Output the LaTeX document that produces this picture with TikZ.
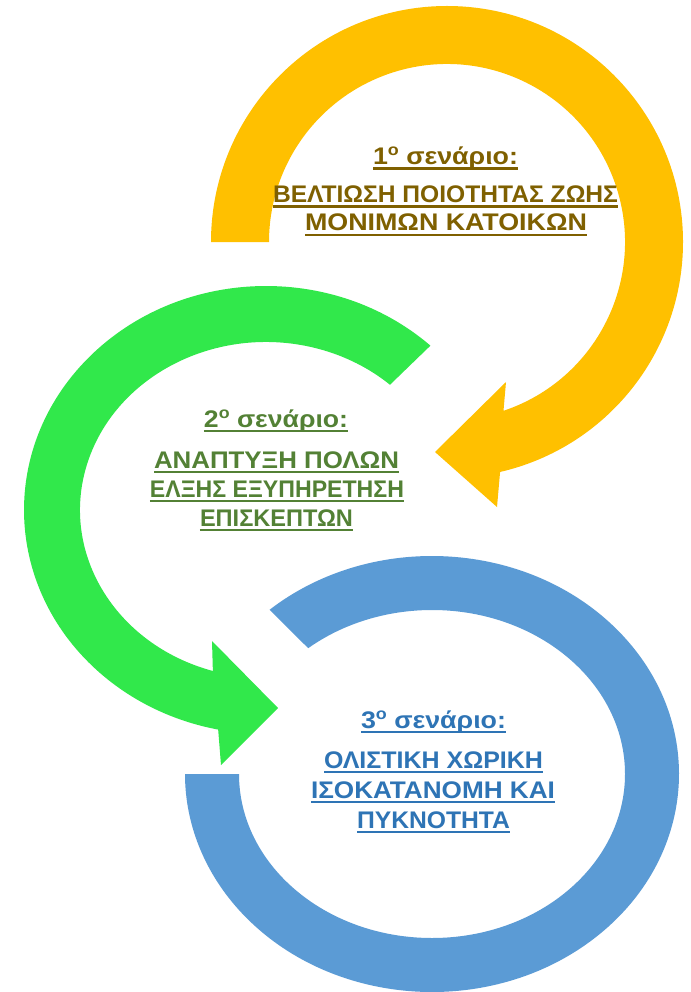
\documentclass[tikz,border=0pt]{standalone}
\usepackage{fontspec}
\setmainfont{Liberation Sans}
\usetikzlibrary{calc}
\definecolor{yarrow}{HTML}{FFC000}
\definecolor{garrow}{HTML}{31E84B}
\definecolor{barrow}{HTML}{5B9BD5}
\definecolor{ytext}{HTML}{7F6000}
\definecolor{gtext}{HTML}{538135}
\definecolor{btext}{HTML}{2E74B5}
\newsavebox\ulsave
\newcommand\ulbox[2]{\sbox\ulsave{\resizebox{#1pt}{\height}{#2}}\rlap{\rule[-5.2pt]{\wd\ulsave}{2.7pt}}\usebox\ulsave}
\newcommand\supo{\raisebox{9pt}{\fontsize{16}{16}\selectfont ο}}
\begin{document}
\begin{tikzpicture}[x=1pt,y=-1pt,
  lbl/.style={anchor=base, inner sep=0pt, font=\bfseries\fontsize{24}{24}\selectfont}]
\useasboundingbox (0,0) rectangle (690,992);
\fill[white] (0,0) rectangle (690,992);
% yellow arrow
\coordinate (yc) at (447,242);
\coordinate (yb1) at (497,507);
\coordinate (yt) at (435,452);
\coordinate (yb2) at (506,382);
\fill[yarrow] ($(yc)+(180:236)$) arc[start angle=180, end angle=437, radius=236]
  -- (yb1) -- (yt) -- (yb2) -- ($(yc)+(431.5:178)$)
  arc[start angle=431.5, end angle=180, radius=178] -- cycle;
% green arrow
\coordinate (gc) at (266,510);
\coordinate (gb1) at (221,765);
\coordinate (gt) at (278,708);
\coordinate (gb2) at (212,641);
\fill[garrow] ($(gc)+(-47.2:242 and 224)$)
  arc[start angle=-47.2, end angle=-258.6, x radius=242, y radius=224]
  -- (gb1) -- (gt) -- (gb2) -- ($(gc)+(-253.4:186 and 168)$)
  arc[start angle=-253.4, end angle=-48.2, x radius=186, y radius=168] -- cycle;
% blue ring
\coordinate (bc) at (432,774);
\fill[barrow] ($(bc)+(228.9:247 and 218)$)
  arc[start angle=228.9, end angle=540, x radius=247, y radius=218]
  -- ($(bc)+(540:193 and 164)$)
  arc[start angle=540, end angle=230.1, x radius=193, y radius=164] -- cycle;
% texts
\node[lbl, text=ytext] (y0) at (445.5,165) {\ulbox{145}{1\supo\ σενάριο:}};
\node[lbl, text=ytext] (y1) at (445.5,203) {\ulbox{345}{ΒΕΛΤΙΩΣΗ ΠΟΙΟΤΗΤΑΣ ΖΩΗΣ}};
\node[lbl, text=ytext] (y2) at (446,231) {\ulbox{282}{ΜΟΝΙΜΩΝ ΚΑΤΟΙΚΩΝ}};
\node[lbl, text=gtext] (g0) at (276,427) {\ulbox{144}{2\supo\ σενάριο:}};
\node[lbl, text=gtext] (g1) at (276.5,468) {\ulbox{245}{ΑΝΑΠΤΥΞΗ ΠΟΛΩΝ}};
\node[lbl, text=gtext] (g2) at (277,497) {\ulbox{254}{ΕΛΞΗΣ ΕΞΥΠΗΡΕΤΗΣΗ}};
\node[lbl, text=gtext] (g3) at (276.5,526) {\ulbox{153}{ΕΠΙΣΚΕΠΤΩΝ}};
\node[lbl, text=btext] (b0) at (433.5,728) {\ulbox{145}{3\supo\ σενάριο:}};
\node[lbl, text=btext] (b1) at (433.5,768) {\ulbox{219}{ΟΛΙΣΤΙΚΗ ΧΩΡΙΚΗ}};
\node[lbl, text=btext] (b2) at (433,798) {\ulbox{244}{ΙΣΟΚΑΤΑΝΟΜΗ ΚΑΙ}};
\node[lbl, text=btext] (b3) at (433.5,828) {\ulbox{153}{ΠΥΚΝΟΤΗΤΑ}};
\end{tikzpicture}
\end{document}
